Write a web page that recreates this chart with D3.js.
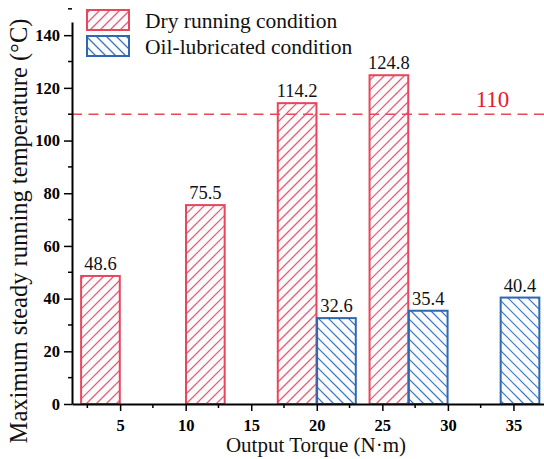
<!DOCTYPE html>
<html>
<head>
<meta charset="utf-8">
<script src="https://cdn.jsdelivr.net/npm/d3@7"></script>
<style>
  body { margin: 0; background: #fff; }
  svg { display: block; font-family: "Liberation Serif", "Times New Roman", serif; }
</style>
</head>
<body>
<svg width="544" height="459"></svg>
<script>
// data (torque units on x, degC on y)
var dryX = [3.5, 11.5, 18.5, 25.5];
var dryVals = [48.6, 75.5, 114.2, 124.8];
var oilX = [21.5, 28.5, 35.5];
var oilVals = [32.6, 35.4, 40.4];
var xTicks = [5, 10, 15, 20, 25, 30, 35];
var yTicks = [0, 20, 40, 60, 80, 100, 120, 140];
var limitValue = 110;
var barWidth = 2.95;   // in torque units

var red = "#e8465c", blue = "#2f67b1";
var redHatch = "#ee5a6e", blueHatch = "#3b74bd";
var hatchGap = 10;

var svg = d3.select("svg"),
    plotL = 72, plotR = 544, plotT = 22, plotB = 404;

var x = d3.scaleLinear().domain([1.33, 37.33]).range([plotL, plotR]);
var y = d3.scaleLinear().domain([0, 145]).range([plotB, plotT]);

// hatch segments clipped to the box; dir 1 = "/", dir -1 = "\"
function hatchSegments(bx, by, bw, bh, dir) {
    var segs = [], c, xa, xb;
    if (dir > 0) {
        for (c = Math.floor((bx + by) / hatchGap) * hatchGap; c <= bx + bw + by + bh; c += hatchGap) {
            xa = Math.max(bx, c - (by + bh)); xb = Math.min(bx + bw, c - by);
            if (xb > xa) segs.push([xa, c - xa, xb, c - xb]);
        }
    } else {
        for (c = Math.floor((bx - by - bh) / hatchGap) * hatchGap; c <= bx + bw - by; c += hatchGap) {
            xa = Math.max(bx, c + by); xb = Math.min(bx + bw, c + by + bh);
            if (xb > xa) segs.push([xa, xa - c, xb, xb - c]);
        }
    }
    return segs;
}

function hatchBox(parent, bx, by, bw, bh, col, hcol, dir) {
    parent.append("rect")
        .attr("x", bx).attr("y", by).attr("width", bw).attr("height", bh)
        .style("fill", "#fbfcff");
    parent.append("g").selectAll("line")
        .data(hatchSegments(bx, by, bw, bh, dir))
        .enter().append("line")
        .attr("x1", function(s) { return s[0]; })
        .attr("y1", function(s) { return s[1]; })
        .attr("x2", function(s) { return s[2]; })
        .attr("y2", function(s) { return s[3]; })
        .style("stroke", hcol)
        .style("stroke-width", 1.2);
    parent.append("rect")
        .attr("x", bx).attr("y", by).attr("width", bw).attr("height", bh)
        .style("fill", "none")
        .style("stroke", col)
        .style("stroke-width", 2);
}

function drawBars(xs, vals, col, hcol, dir) {
    var g = svg.append("g");
    xs.forEach(function(xv, i) {
        var x0 = x(xv - barWidth / 2), x1 = x(xv + barWidth / 2);
        hatchBox(g, x0, y(vals[i]), x1 - x0, y(0) - y(vals[i]), col, hcol, dir);
        g.append("text")
            .attr("x", x(xv))
            .attr("y", y(vals[i]) - 6)
            .attr("text-anchor", "middle")
            .attr("font-size", 18.5)
            .attr("fill", "#111")
            .text(vals[i].toFixed(1));
    });
}
drawBars(dryX, dryVals, red, redHatch, 1);
drawBars(oilX, oilVals, blue, blueHatch, -1);

// 110 limit line
svg.append("line")
    .attr("x1", plotL).attr("x2", plotR)
    .attr("y1", y(limitValue)).attr("y2", y(limitValue))
    .style("stroke", red)
    .style("stroke-width", 1.6)
    .style("stroke-dasharray", "10,6.5");
svg.append("text")
    .attr("x", x(33.4)).attr("y", y(limitValue) - 7)
    .attr("text-anchor", "middle")
    .attr("font-size", 23)
    .attr("fill", "#e5202e")
    .text(limitValue);

// axes
var xAxis = svg.append("g")
    .attr("transform", "translate(0," + plotB + ")");
xAxis.call(d3.axisBottom(x).tickValues(xTicks).tickSize(7).tickSizeOuter(0).tickPadding(8));
xAxis.append("g").selectAll("line")
    .data(xTicks.map(function(t) { return t - 2.5; }).concat([37.5]).filter(function(t) { return t > 1.33 && t < 37.33; }))
    .enter().append("line")
    .attr("x1", function(d) { return x(d); }).attr("x2", function(d) { return x(d); })
    .attr("y1", 0).attr("y2", 4)
    .style("stroke", "#000").style("stroke-width", 1.5);

var yAxis = svg.append("g")
    .attr("transform", "translate(" + plotL + ",0)");
yAxis.call(d3.axisLeft(y).tickValues(yTicks).tickSize(8).tickSizeOuter(0).tickPadding(4));
yAxis.append("g").selectAll("line")
    .data(yTicks.map(function(t) { return t + 10; }))
    .enter().append("line")
    .attr("x1", 0).attr("x2", -4)
    .attr("y1", function(d) { return y(d); }).attr("y2", function(d) { return y(d); })
    .style("stroke", "#000").style("stroke-width", 1.5);

xAxis.select(".domain").style("stroke", "#000").style("stroke-width", 2);
yAxis.select(".domain").style("stroke", "#000").style("stroke-width", 2);
xAxis.selectAll(".tick line").style("stroke", "#000").style("stroke-width", 1.5);
yAxis.selectAll(".tick line").style("stroke", "#000").style("stroke-width", 1.5);
svg.selectAll(".tick text")
    .attr("font-family", "Liberation Serif, serif")
    .attr("font-size", 16.5)
    .attr("font-weight", "bold")
    .attr("fill", "#000");

// axis titles
svg.append("text")
    .attr("x", 316).attr("y", 452)
    .attr("text-anchor", "middle")
    .attr("font-size", 21)
    .attr("fill", "#111")
    .text("Output Torque (N\u00b7m)");
svg.append("text")
    .attr("transform", "translate(27," + 231 + ") rotate(-90)")
    .attr("text-anchor", "middle")
    .attr("font-size", 24.5)
    .attr("fill", "#111")
    .text("Maximum steady running temperature (\u00b0C)");

// legend
var legendItems = [
    {label: "Dry running condition", col: red, hcol: redHatch, dir: 1},
    {label: "Oil-lubricated condition", col: blue, hcol: blueHatch, dir: -1}
];
var legend = svg.append("g");
legendItems.forEach(function(d, i) {
    var gy = 10 + i * 26;
    hatchBox(legend, 87, gy, 42, 20, d.col, d.hcol, d.dir);
    legend.append("text")
        .attr("x", 145).attr("y", gy + 18)
        .attr("font-size", 21.5)
        .attr("fill", "#111")
        .text(d.label);
});
</script>
</body>
</html>
